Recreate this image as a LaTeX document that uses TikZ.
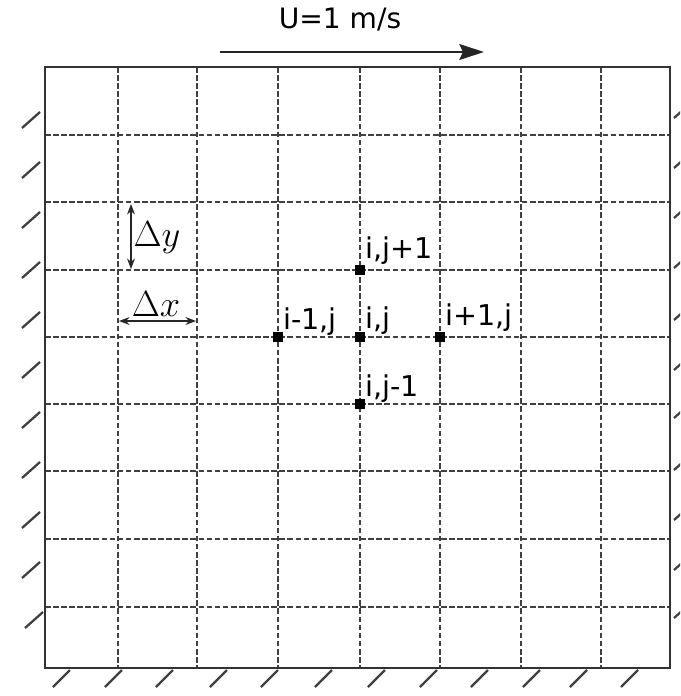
\documentclass[tikz,border=0pt]{standalone}
\usepackage{fontspec}
\setmainfont{DejaVu Sans}
\usetikzlibrary{arrows.meta}
\begin{document}
\begin{tikzpicture}[x=0.02cm,y=-0.02cm]
\tikzstyle{wall}=[draw=black!80,line width=1.3pt]
\tikzstyle{gridline}=[draw=black!75,line width=1pt,dash pattern=on 3.2pt off 1.4pt]
\tikzstyle{hatch}=[draw=black!75,line width=1.3pt]
\tikzstyle{gridpt}=[fill=black,rectangle,minimum size=5.5pt,inner sep=0pt]
\tikzstyle{ptlabel}=[anchor=base west,inner sep=0pt,font=\fontsize{16.3}{19}\selectfont]
\tikzstyle{delta}=[draw=black!85,line width=0.7pt,{Stealth[length=6pt,width=4.5pt]}-{Stealth[length=6pt,width=4.5pt]}]
\tikzstyle{flow}=[draw=black!85,line width=1.3pt,-{Stealth[length=14pt,width=9pt,inset=2pt]}]
\clip (0,0) rectangle (680,696);
% grid
\draw[gridline] (118,67) -- (118,668);
\draw[gridline] (197,67) -- (197,668);
\draw[gridline] (278,67) -- (278,668);
\draw[gridline] (360,67) -- (360,668);
\draw[gridline] (440,67) -- (440,668);
\draw[gridline] (521,67) -- (521,668);
\draw[gridline] (601,67) -- (601,668);
\draw[gridline] (45,135) -- (670,135);
\draw[gridline] (45,202) -- (670,202);
\draw[gridline] (45,270) -- (670,270);
\draw[gridline] (45,337) -- (670,337);
\draw[gridline] (45,404) -- (670,404);
\draw[gridline] (45,471) -- (670,471);
\draw[gridline] (45,539) -- (670,539);
\draw[gridline] (45,607) -- (670,607);
\draw[wall] (45,67) rectangle (670,668);
% walls
\draw[hatch] (22,128) -- (40,112);
\draw[hatch] (22,178) -- (40,162);
\draw[hatch] (22,228) -- (40,212);
\draw[hatch] (22,278) -- (40,262);
\draw[hatch] (22,328) -- (40,312);
\draw[hatch] (22,378) -- (40,362);
\draw[hatch] (22,428) -- (40,412);
\draw[hatch] (22,478) -- (40,462);
\draw[hatch] (22,528) -- (40,512);
\draw[hatch] (22,578) -- (40,562);
\draw[hatch] (25,628) -- (43,612);
\draw[hatch] (674,118) -- (692,102);
\draw[hatch] (674,168) -- (692,152);
\draw[hatch] (674,218) -- (692,202);
\draw[hatch] (674,268) -- (692,252);
\draw[hatch] (674,320) -- (692,304);
\draw[hatch] (674,370) -- (692,354);
\draw[hatch] (674,418) -- (692,402);
\draw[hatch] (674,470) -- (692,454);
\draw[hatch] (674,520) -- (692,504);
\draw[hatch] (674,570) -- (692,554);
\draw[hatch] (674,618) -- (692,602);
\draw[hatch] (53,687) -- (70,670);
\draw[hatch] (105,687) -- (122,670);
\draw[hatch] (156,687) -- (173,670);
\draw[hatch] (210,687) -- (227,670);
\draw[hatch] (261,687) -- (278,670);
\draw[hatch] (315,687) -- (332,670);
\draw[hatch] (368,687) -- (385,670);
\draw[hatch] (420,687) -- (437,670);
\draw[hatch] (471,687) -- (488,670);
\draw[hatch] (523,687) -- (540,670);
\draw[hatch] (570,687) -- (587,670);
\draw[hatch] (621,687) -- (638,670);
% moving lid
\coordinate (lidA) at (220,52);
\coordinate (lidB) at (484,52);
\draw[flow] (lidA) -- (lidB);
\node[font=\fontsize{16}{19}\selectfont] (lid) at (340,20) {U=1 m/s};
% spacings
\coordinate (dyA) at (131,204);
\coordinate (dyB) at (131,269);
\coordinate (dxA) at (119,321);
\coordinate (dxB) at (196,321);
\draw[delta] (dyA) -- (dyB);
\draw[delta] (dxA) -- (dxB);
\node[font=\fontsize{19.5}{23}\selectfont] (dy) at (157,238) {$\Delta y$};
\node[font=\fontsize{19.5}{23}\selectfont] (dx) at (156,304) {$\Delta x$};
% stencil
\node[gridpt] (c) at (360,337) {};
\node[gridpt] (n) at (360,270) {};
\node[gridpt] (s) at (360,404) {};
\node[gridpt] (w) at (278,337) {};
\node[gridpt] (e) at (440,337) {};
\node[ptlabel] (cl) at (365,328) {i,j};
\node[ptlabel] (nl) at (365,258) {i,j+1};
\node[ptlabel] (sl) at (365,396) {i,j-1};
\node[ptlabel] (wl) at (283,329) {i-1,j};
\node[ptlabel] (el) at (445,325) {i+1,j};
\end{tikzpicture}
\end{document}
